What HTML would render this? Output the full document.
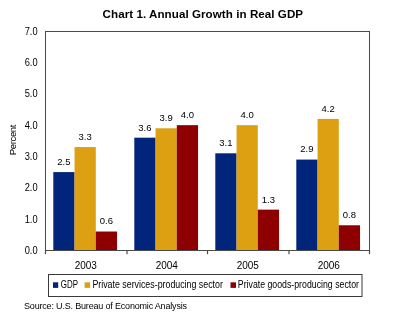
<!DOCTYPE html><html><head><meta charset="utf-8"><style>html,body{margin:0;padding:0;background:#fff;width:400px;height:322px;overflow:hidden}</style></head><body><svg width="400" height="322" viewBox="0 0 400 322" style="display:block;will-change:transform">
<rect width="400" height="322" fill="#fff"/>
<text x="102.6" y="18.3" font-family="Liberation Sans, sans-serif" font-size="11.6" font-weight="bold" fill="#000" textLength="200.5" lengthAdjust="spacing">Chart 1. Annual Growth in Real GDP</text>
<rect x="53.30" y="172.09" width="21.25" height="78.41" fill="#00257A"/>
<text x="63.92" y="164.99" font-family="Liberation Sans, sans-serif" font-size="9.5" fill="#000" text-anchor="middle">2.5</text>
<rect x="74.55" y="147.06" width="21.25" height="103.44" fill="#DDA012"/>
<text x="85.17" y="139.96" font-family="Liberation Sans, sans-serif" font-size="9.5" fill="#000" text-anchor="middle">3.3</text>
<rect x="95.80" y="231.53" width="21.25" height="18.97" fill="#8E0000"/>
<text x="106.42" y="224.43" font-family="Liberation Sans, sans-serif" font-size="9.5" fill="#000" text-anchor="middle">0.6</text>
<text x="85.80" y="268.5" font-family="Liberation Sans, sans-serif" font-size="10" fill="#000" text-anchor="middle">2003</text>
<rect x="134.30" y="137.67" width="21.25" height="112.83" fill="#00257A"/>
<text x="144.93" y="130.57" font-family="Liberation Sans, sans-serif" font-size="9.5" fill="#000" text-anchor="middle">3.6</text>
<rect x="155.55" y="128.29" width="21.25" height="122.21" fill="#DDA012"/>
<text x="166.18" y="121.19" font-family="Liberation Sans, sans-serif" font-size="9.5" fill="#000" text-anchor="middle">3.9</text>
<rect x="176.80" y="125.16" width="21.25" height="125.34" fill="#8E0000"/>
<text x="187.43" y="118.06" font-family="Liberation Sans, sans-serif" font-size="9.5" fill="#000" text-anchor="middle">4.0</text>
<text x="166.80" y="268.5" font-family="Liberation Sans, sans-serif" font-size="10" fill="#000" text-anchor="middle">2004</text>
<rect x="215.30" y="153.31" width="21.25" height="97.19" fill="#00257A"/>
<text x="225.93" y="146.21" font-family="Liberation Sans, sans-serif" font-size="9.5" fill="#000" text-anchor="middle">3.1</text>
<rect x="236.55" y="125.16" width="21.25" height="125.34" fill="#DDA012"/>
<text x="247.18" y="118.06" font-family="Liberation Sans, sans-serif" font-size="9.5" fill="#000" text-anchor="middle">4.0</text>
<rect x="257.80" y="209.63" width="21.25" height="40.87" fill="#8E0000"/>
<text x="268.43" y="202.53" font-family="Liberation Sans, sans-serif" font-size="9.5" fill="#000" text-anchor="middle">1.3</text>
<text x="247.80" y="268.5" font-family="Liberation Sans, sans-serif" font-size="10" fill="#000" text-anchor="middle">2005</text>
<rect x="296.30" y="159.57" width="21.25" height="90.93" fill="#00257A"/>
<text x="306.93" y="152.47" font-family="Liberation Sans, sans-serif" font-size="9.5" fill="#000" text-anchor="middle">2.9</text>
<rect x="317.55" y="118.90" width="21.25" height="131.60" fill="#DDA012"/>
<text x="328.18" y="111.80" font-family="Liberation Sans, sans-serif" font-size="9.5" fill="#000" text-anchor="middle">4.2</text>
<rect x="338.80" y="225.27" width="21.25" height="25.23" fill="#8E0000"/>
<text x="349.43" y="218.17" font-family="Liberation Sans, sans-serif" font-size="9.5" fill="#000" text-anchor="middle">0.8</text>
<text x="328.80" y="268.5" font-family="Liberation Sans, sans-serif" font-size="10" fill="#000" text-anchor="middle">2006</text>
<rect x="45.5" y="31.5" width="324" height="219" fill="none" stroke="#4a4a4a" stroke-width="1"/>
<line x1="45.5" y1="250" x2="45.5" y2="254.2" stroke="#4a4a4a" stroke-width="1.2"/>
<line x1="127" y1="250" x2="127" y2="254.2" stroke="#4a4a4a" stroke-width="1.2"/>
<line x1="207.5" y1="250" x2="207.5" y2="254.2" stroke="#4a4a4a" stroke-width="1.2"/>
<line x1="289" y1="250" x2="289" y2="254.2" stroke="#4a4a4a" stroke-width="1.2"/>
<line x1="369.5" y1="250" x2="369.5" y2="254.2" stroke="#4a4a4a" stroke-width="1.2"/>
<text x="37.6" y="253.80" font-family="Liberation Sans, sans-serif" font-size="10" fill="#000" text-anchor="end" textLength="12.9" lengthAdjust="spacingAndGlyphs">0.0</text>
<text x="37.6" y="222.51" font-family="Liberation Sans, sans-serif" font-size="10" fill="#000" text-anchor="end" textLength="12.9" lengthAdjust="spacingAndGlyphs">1.0</text>
<text x="37.6" y="191.23" font-family="Liberation Sans, sans-serif" font-size="10" fill="#000" text-anchor="end" textLength="12.9" lengthAdjust="spacingAndGlyphs">2.0</text>
<text x="37.6" y="159.94" font-family="Liberation Sans, sans-serif" font-size="10" fill="#000" text-anchor="end" textLength="12.9" lengthAdjust="spacingAndGlyphs">3.0</text>
<text x="37.6" y="128.66" font-family="Liberation Sans, sans-serif" font-size="10" fill="#000" text-anchor="end" textLength="12.9" lengthAdjust="spacingAndGlyphs">4.0</text>
<text x="37.6" y="97.37" font-family="Liberation Sans, sans-serif" font-size="10" fill="#000" text-anchor="end" textLength="12.9" lengthAdjust="spacingAndGlyphs">5.0</text>
<text x="37.6" y="66.09" font-family="Liberation Sans, sans-serif" font-size="10" fill="#000" text-anchor="end" textLength="12.9" lengthAdjust="spacingAndGlyphs">6.0</text>
<text x="37.6" y="34.80" font-family="Liberation Sans, sans-serif" font-size="10" fill="#000" text-anchor="end" textLength="12.9" lengthAdjust="spacingAndGlyphs">7.0</text>
<text transform="translate(16.2,139.9) rotate(-90)" font-family="Liberation Sans, sans-serif" font-size="9.6" fill="#000" text-anchor="middle" textLength="30.8" lengthAdjust="spacing">Percent</text>
<rect x="48.5" y="274.5" width="313.5" height="22" fill="#fff" stroke="#3a3a3a" stroke-width="1"/>
<rect x="53" y="282.3" width="5.2" height="5.6" fill="#00257A"/>
<text x="60.8" y="288.2" font-family="Liberation Sans, sans-serif" font-size="10" fill="#000" textLength="17.2" lengthAdjust="spacingAndGlyphs">GDP</text>
<rect x="84.6" y="282.3" width="5.5" height="5.6" fill="#DDA012"/>
<text x="92.4" y="288.2" font-family="Liberation Sans, sans-serif" font-size="10" fill="#000" textLength="130.5" lengthAdjust="spacingAndGlyphs">Private services-producing sector</text>
<rect x="230.5" y="282.3" width="5.5" height="5.6" fill="#8E0000"/>
<text x="237.8" y="288.2" font-family="Liberation Sans, sans-serif" font-size="10" fill="#000" textLength="121.2" lengthAdjust="spacingAndGlyphs">Private goods-producing sector</text>
<text x="24" y="309" font-family="Liberation Sans, sans-serif" font-size="9" fill="#000" textLength="163" lengthAdjust="spacing">Source: U.S. Bureau of Economic Analysis</text>
</svg></body></html>
